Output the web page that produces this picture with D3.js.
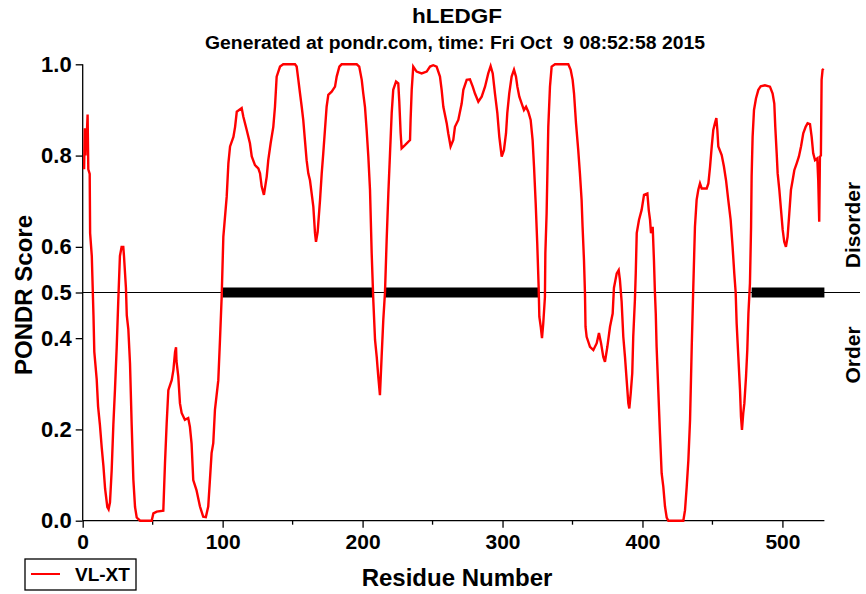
<!DOCTYPE html>
<html><head><meta charset="utf-8">
<script src="https://cdn.jsdelivr.net/npm/d3@7"></script>
<style>
body{margin:0;background:#fff;}
text{font-family:"Liberation Sans",Arial,Helvetica,sans-serif;font-weight:bold;fill:#000;white-space:pre;}
</style></head><body>
<svg id="chart" width="866" height="594"></svg>
<script>
const residues = [1,1.5,2,2.5,3,3.5,4,5,5.3,6.5,7.7,8.3,10,11,12.3,13.6,14.8,16,17.6,18.5,19.5,20.7,21.9,23.1,24.3,25.4,26.6,27.8,29,29.5,30.9,31.5,32.6,33.8,35,36.2,37.4,38.6,41,49.3,50.5,52.9,57.6,58.8,60,61.2,63.6,64.8,66,66.7,67,68.3,69.5,70.7,73,75.4,76.6,77.8,79,81.3,83.8,86.1,88,89.7,90.9,92.1,93.3,94.5,96.9,98.1,99.3,100.5,102.9,104.1,105.3,107.7,108.9,110.1,113.6,114.8,117.2,119.5,120.8,123.1,125.5,126.7,127.9,129.5,131.5,132.6,134.3,136.2,137.4,138.6,141,143.3,151.7,152.9,154.1,155.3,156.5,157.6,158.8,160,161.2,162.4,163.6,164.8,166,166.7,167.9,169.6,170.8,171.9,173.1,174.3,175.5,177.9,180.3,181.5,183.4,185,195.8,197.6,199.4,200.5,201.7,202.9,204.1,205.3,206.5,207.7,208.9,210.1,211.2,212.4,213.6,214.8,216,217.2,218.4,219.6,220.8,221.9,223.9,225.5,226.2,227.2,227.9,230.3,233.9,234.3,235.1,236.2,238.6,242.2,245.8,248.2,250.5,252.9,255.3,256.5,257.7,260.1,261.2,262.9,264.8,266,268.4,270.8,272,274.4,276.7,278.7,280.3,282.7,285.1,287.5,289.8,291.5,293,294.6,296.3,297.7,299.4,301,302.5,303.4,304.8,306.5,308.2,309.6,310.6,312,313.7,315.3,316.8,318.4,320.1,321.5,322.5,323.7,324.8,325.8,326.3,327.3,328.2,329.1,330.3,330.6,331.5,332.7,333.9,335.1,337.5,347,348.7,350.1,351.1,352.5,354.1,355.3,356.5,357.2,358.2,358.9,359.3,360.1,362.5,364.9,367.3,368.9,370.4,372,373.2,374.9,376.8,378.7,379.6,381.6,383,383.9,385.1,386.3,387.5,388.7,389.9,390.6,391.6,392.7,393.4,394.6,395.2,395.9,397.5,399.4,401.1,403.5,404.5,405.4,406.1,407.3,408.2,408.9,409.5,410.1,411.3,412.5,413.7,414.9,416.1,417.3,418.5,429.2,430.4,431.6,432.8,434,435.2,436.3,437.5,438.7,439.9,441.1,442.3,445.9,447.1,448.3,449.5,450.6,451.8,452.8,453.5,454.2,456.6,458.2,459.7,461.3,463,464.4,465.6,466.6,467.3,468.5,469.7,470.4,471.1,472,472.8,474,474.9,475.7,476.8,477.6,478,478.7,479.7,481.1,482.8,484.5,487.5,491.1,493,494.2,494.9,495.9,496.6,497.8,499,500.2,501.3,502.5,503.7,504.9,506.1,507.3,508.5,510.2,511.8,513.3,514.9,516.6,518,519.7,520.9,522,523.3,524.9,525.6,526.3,526.8,527.5,528,528.7,529.5];
const scores = [0.77,0.86,0.80,0.86,0.85,0.89,0.77,0.76,0.63,0.58,0.45,0.37,0.31,0.25,0.21,0.16,0.12,0.07,0.03,0.025,0.04,0.11,0.21,0.29,0.38,0.48,0.58,0.60,0.60,0.58,0.51,0.45,0.42,0.345,0.21,0.09,0.03,0.007,0.0,0.0,0.016,0.02,0.022,0.126,0.213,0.286,0.308,0.33,0.37,0.38,0.35,0.316,0.257,0.236,0.221,0.225,0.206,0.169,0.089,0.067,0.031,0.009,0.008,0.031,0.089,0.148,0.17,0.243,0.308,0.396,0.49,0.622,0.71,0.783,0.82,0.841,0.863,0.896,0.904,0.885,0.856,0.827,0.798,0.779,0.772,0.761,0.732,0.714,0.754,0.79,0.827,0.863,0.907,0.973,0.995,1.0,1.0,0.995,0.966,0.936,0.907,0.878,0.834,0.79,0.761,0.746,0.717,0.688,0.63,0.611,0.633,0.703,0.761,0.805,0.856,0.907,0.933,0.94,0.951,0.973,0.995,1.0,1.0,0.995,0.966,0.936,0.907,0.856,0.798,0.725,0.586,0.48,0.396,0.359,0.316,0.275,0.359,0.44,0.5,0.615,0.717,0.805,0.893,0.944,0.962,0.958,0.92,0.849,0.816,0.823,0.834,0.878,0.944,0.995,0.984,0.98,0.984,0.995,0.998,0.995,0.973,0.944,0.907,0.871,0.849,0.82,0.834,0.863,0.878,0.914,0.944,0.966,0.967,0.951,0.936,0.918,0.929,0.951,0.98,0.996,0.98,0.936,0.893,0.841,0.798,0.812,0.849,0.893,0.936,0.973,0.988,0.973,0.951,0.929,0.914,0.9,0.907,0.896,0.878,0.834,0.776,0.695,0.608,0.513,0.447,0.425,0.4,0.432,0.49,0.586,0.673,0.863,0.951,0.995,1.0,1.0,0.988,0.966,0.936,0.871,0.812,0.761,0.703,0.644,0.571,0.5,0.425,0.403,0.381,0.374,0.389,0.411,0.389,0.359,0.348,0.381,0.425,0.454,0.51,0.542,0.549,0.527,0.48,0.403,0.359,0.308,0.257,0.246,0.279,0.323,0.403,0.484,0.542,0.63,0.659,0.681,0.714,0.717,0.68,0.659,0.63,0.644,0.571,0.5,0.454,0.381,0.286,0.191,0.104,0.074,0.031,0.007,0.0,0.0,0.023,0.074,0.133,0.221,0.381,0.51,0.644,0.703,0.725,0.739,0.728,0.728,0.739,0.776,0.82,0.856,0.871,0.882,0.856,0.82,0.801,0.776,0.746,0.703,0.659,0.6,0.542,0.5,0.432,0.359,0.286,0.228,0.199,0.235,0.257,0.316,0.374,0.454,0.52,0.644,0.754,0.841,0.9,0.925,0.944,0.952,0.954,0.951,0.936,0.914,0.863,0.805,0.761,0.725,0.681,0.637,0.611,0.6,0.622,0.673,0.725,0.746,0.768,0.783,0.798,0.82,0.849,0.863,0.871,0.869,0.841,0.805,0.79,0.794,0.746,0.655,0.798,0.8,0.966,0.988,0.99];
const disorderStart = [100, 216, 478];
const disorderEnd = [208, 326, 530];
const xMajorTicks = [0,100,200,300,400,500];
const xMinorTicks = [50,150,250,350,450];
const yTicks = [0.0,0.2,0.4,0.5,0.6,0.8,1.0];
const titleText = "hLEDGF";
const subtitleText = "Generated at pondr.com, time: Fri Oct  9 08:52:58 2015";
const seriesName = "VL-XT";

const svg = d3.select("#chart");
const x = d3.scaleLinear().domain([0,530]).range([82.7,824.4]);
const y = d3.scaleLinear().domain([0,1]).range([520.7,64.3]);

// threshold line
svg.append("line").attr("x1",x(0)).attr("x2",860).attr("y1",y(0.5)).attr("y2",y(0.5))
  .attr("stroke","#000").attr("stroke-width",1);

// disorder bars
svg.selectAll("rect.dis").data(disorderStart.map((s,i)=>[s,disorderEnd[i]])).enter()
  .append("rect").attr("class","dis")
  .attr("x",d=>x(d[0])).attr("width",d=>x(d[1])-x(d[0]))
  .attr("y",y(0.5)-5).attr("height",10).attr("fill","#000");

// axes
const xAxis = d3.axisBottom(x).tickValues(xMajorTicks).tickFormat(d3.format("d")).tickSize(7).tickPadding(6);
const gx = svg.append("g").attr("transform",`translate(0,${y(0)})`).call(xAxis);
gx.select(".domain").attr("d",`M${x(0)},0H${x(530)}`).attr("stroke-width",1.3);
gx.selectAll(".tick line").attr("stroke-width",1.3);
gx.selectAll(".tick text").attr("font-size",21).attr("font-family","Liberation Sans, Arial, sans-serif").attr("font-weight","bold");
svg.append("g").attr("transform",`translate(0,${y(0)})`).selectAll("line").data(xMinorTicks).enter()
  .append("line").attr("x1",d=>x(d)).attr("x2",d=>x(d)).attr("y1",0).attr("y2",4).attr("stroke","#000").attr("stroke-width",1.3);

const yAxis = d3.axisLeft(y).tickValues(yTicks).tickFormat(d3.format(".1f")).tickSize(7).tickPadding(4);
const gy = svg.append("g").attr("transform",`translate(${x(0)},0)`).call(yAxis);
gy.select(".domain").attr("d",`M0,${y(0)}V${y(1)}`).attr("stroke-width",1.3);
gy.selectAll(".tick line").attr("stroke-width",1.3);
gy.selectAll(".tick text").attr("font-size",22).attr("font-family","Liberation Sans, Arial, sans-serif").attr("font-weight","bold");

// series line
const line = d3.line().x(d=>x(d[0])).y(d=>y(d[1]));
svg.append("path").datum(residues.map((r,i)=>[r,scores[i]]))
  .attr("d",line).attr("fill","none").attr("stroke","#ff0000").attr("stroke-width",2.4).attr("stroke-linejoin","miter");

// titles
svg.append("text").attr("x",457).attr("y",23).attr("text-anchor","middle").attr("font-size",21)
  .attr("textLength",90).attr("lengthAdjust","spacingAndGlyphs").text(titleText);
svg.append("text").attr("x",455).attr("y",49).attr("text-anchor","middle").attr("font-size",18)
  .attr("xml:space","preserve")
  .attr("textLength",500).attr("lengthAdjust","spacingAndGlyphs").text(subtitleText);

svg.append("text").attr("transform","translate(32,295) rotate(-90)").attr("text-anchor","middle")
  .attr("font-size",24).text("PONDR Score");
svg.append("text").attr("x",457).attr("y",586).attr("text-anchor","middle")
  .attr("font-size",24).text("Residue Number");

svg.append("text").attr("transform","translate(860,225) rotate(-90)").attr("text-anchor","middle")
  .attr("font-size",21).text("Disorder");
svg.append("text").attr("transform","translate(860,355) rotate(-90)").attr("text-anchor","middle")
  .attr("font-size",21).text("Order");

// legend
const lg = svg.append("g");
lg.append("rect").attr("x",25).attr("y",559).attr("width",111).attr("height",31)
  .attr("fill","#fff").attr("stroke","#000").attr("stroke-width",1.3);
lg.append("line").attr("x1",31).attr("x2",60).attr("y1",574).attr("y2",574).attr("stroke","#ff0000").attr("stroke-width",2);
lg.append("text").attr("x",75).attr("y",581).attr("font-size",19).text(seriesName);
</script>
</body></html>
